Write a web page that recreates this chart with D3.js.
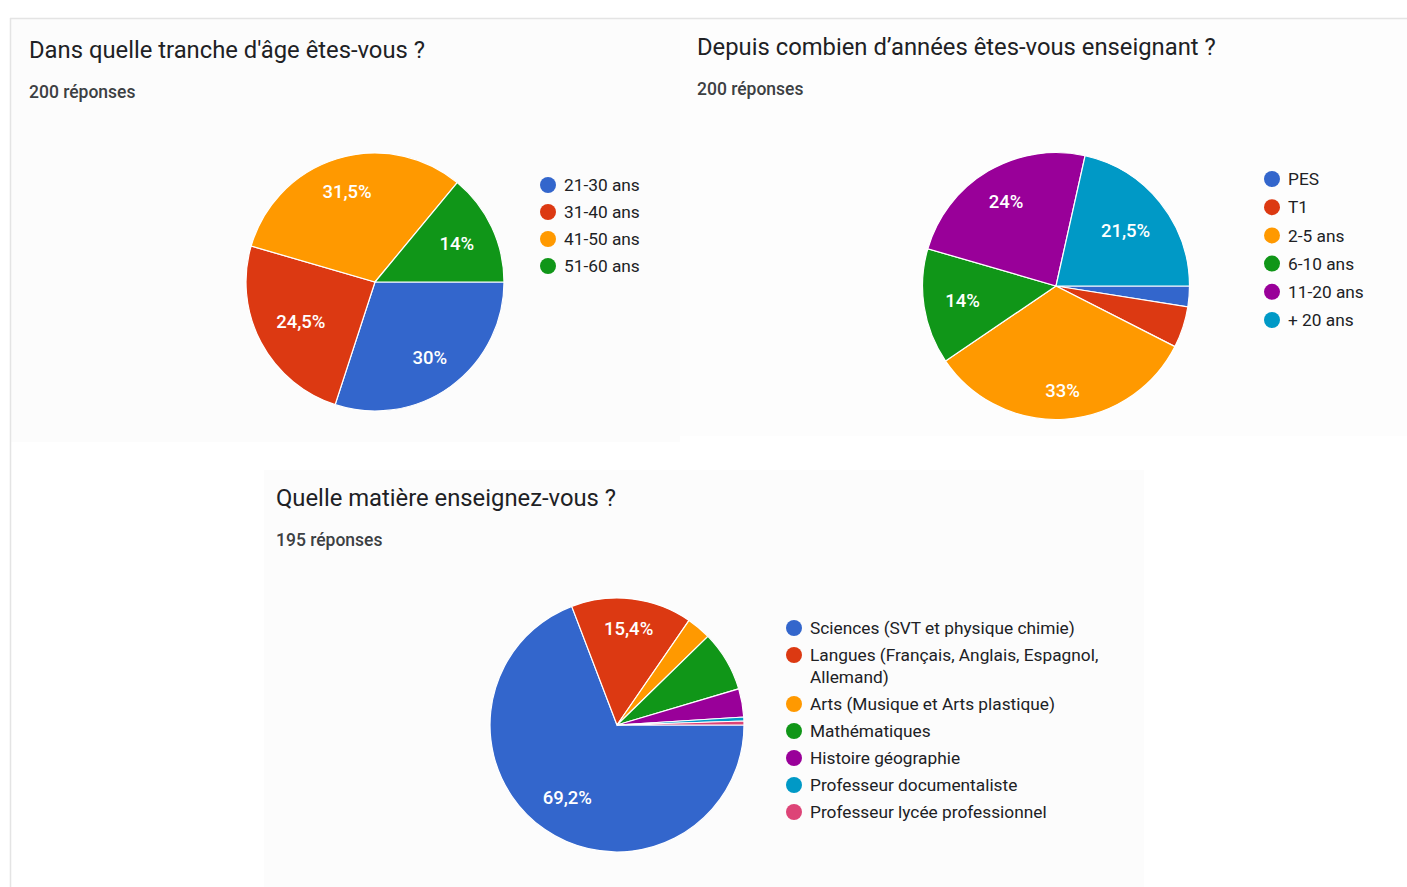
<!DOCTYPE html>
<html>
<head>
<meta charset="utf-8">
<script src="https://cdn.jsdelivr.net/npm/d3@7"></script>
<style>
  html, body { margin: 0; padding: 0; background: #ffffff; }
  svg { display: block; font-family: Roboto, "Noto Sans", Arial, sans-serif; }
</style>
</head>
<body>
<svg id="chart" width="1407" height="887"></svg>
<script>
// ---------- DATA ----------
const ageTitle = "Dans quelle tranche d'âge êtes-vous ?";
const ageResponses = "200 réponses";
const ageCategories = ["21-30 ans", "31-40 ans", "41-50 ans", "51-60 ans"];
const ageValues = [30, 24.5, 31.5, 14];

const seniorityTitle = "Depuis combien d’années êtes-vous enseignant ?";
const seniorityResponses = "200 réponses";
const seniorityCategories = ["PES", "T1", "2-5 ans", "6-10 ans", "11-20 ans", "+ 20 ans"];
const seniorityValues = [2.5, 5, 33, 14, 24, 21.5];

const subjectTitle = "Quelle matière enseignez-vous ?";
const subjectResponses = "195 réponses";
const subjectCategories = [
  "Sciences (SVT et physique chimie)",
  "Langues (Français, Anglais, Espagnol, Allemand)",
  "Arts (Musique et Arts plastique)",
  "Mathématiques",
  "Histoire géographie",
  "Professeur documentaliste",
  "Professeur lycée professionnel"
];
const subjectValues = [69.2, 15.4, 3.1, 7.7, 3.6, 0.5, 0.5];

const palette = ["#3366cc", "#dc3912", "#ff9900", "#109618", "#990099", "#0099c6", "#dd4477"];

// ---------- LAYOUT ----------
const svg = d3.select("#chart");

// page frame & panels
const frame = svg.append("g");
frame.append("rect").attr("x", 11).attr("y", 19).attr("width", 669).attr("height", 423).attr("fill", "#fcfcfc");
frame.append("rect").attr("x", 680).attr("y", 19).attr("width", 727).attr("height", 417).attr("fill", "#fdfdfd");
frame.append("rect").attr("x", 264).attr("y", 470).attr("width", 880).attr("height", 417).attr("fill", "#fcfcfc");
frame.append("line").attr("x1", 10).attr("x2", 1407).attr("y1", 18.5).attr("y2", 18.5).attr("stroke", "#e4e4e4").attr("stroke-width", 1.5);
frame.append("line").attr("x1", 10.5).attr("x2", 10.5).attr("y1", 18).attr("y2", 887).attr("stroke", "#e4e4e4").attr("stroke-width", 1.5);

const fmt = v => d3.format(".1f")(v).replace(/\.0$/, "").replace(".", ",") + "%";

function drawChart(cfg) {
  const g = svg.append("g");
  g.append("text")
    .attr("x", cfg.titleX).attr("y", cfg.titleY)
    .attr("font-size", 23.8).attr("fill", "#202124")
    .text(cfg.title);
  g.append("text")
    .attr("x", cfg.titleX).attr("y", cfg.titleY + 40)
    .attr("font-size", 17.5).attr("font-weight", 500).attr("fill", "#3c4043")
    .text(cfg.responses);

  const pie = d3.pie().sort(null).value(d => d)
    .startAngle(Math.PI / 2).endAngle(Math.PI / 2 + 2 * Math.PI);
  const arcs = pie(cfg.values);
  const arc = d3.arc().innerRadius(0).outerRadius(cfg.r);
  const color = d3.scaleOrdinal().domain(cfg.categories).range(palette);

  const pg = g.append("g").attr("transform", `translate(${cfg.cx},${cfg.cy})`);
  pg.selectAll("path").data(arcs).join("path")
    .attr("d", arc)
    .attr("fill", (d, i) => color(cfg.categories[i]))
    .attr("stroke", "#ffffff").attr("stroke-width", 1.2);

  const fs = 18.5;
  pg.selectAll("text.lbl").data(arcs.filter(d => d.data >= 10)).join("text")
    .attr("class", "lbl")
    .attr("font-size", fs).attr("font-weight", 500).attr("fill", "#ffffff")
    .attr("text-anchor", "middle").attr("dy", "0.36em")
    .text(d => fmt(d.data))
    .each(function(d) {
      const w = this.getComputedTextLength() / 2;
      const h = fs * 0.38;
      const a = (d.startAngle + d.endAngle) / 2;
      const s = Math.sin(a), c = -Math.cos(a);
      const dist = cfg.r * 0.845 - (w * Math.abs(s) + h * Math.abs(c));
      d3.select(this).attr("x", dist * s).attr("y", dist * c);
    });

  // legend
  const lg = g.append("g");
  let y = cfg.legY;
  cfg.categories.forEach((cat, i) => {
    lg.append("circle").attr("cx", cfg.legX).attr("cy", y).attr("r", 8)
      .attr("fill", color(cat));
    const t = lg.append("text").attr("x", cfg.legX + 16).attr("y", y)
      .attr("font-size", 17.3).attr("fill", "#202124");
    // word wrap
    const words = cat.split(" ");
    let line = [], lines = 0;
    let tspan = t.append("tspan").attr("x", cfg.legX + 16).attr("dy", "0.36em");
    words.forEach(wd => {
      line.push(wd);
      tspan.text(line.join(" "));
      if (tspan.node().getComputedTextLength() > cfg.legWrap && line.length > 1) {
        line.pop();
        tspan.text(line.join(" "));
        line = [wd];
        lines++;
        tspan = t.append("tspan").attr("x", cfg.legX + 16).attr("dy", cfg.legLine).text(wd);
      }
    });
    y += cfg.legStep + lines * cfg.legLine;
  });
}

drawChart({
  title: ageTitle, responses: ageResponses, categories: ageCategories, values: ageValues,
  titleX: 29, titleY: 58, cx: 375, cy: 282, r: 129,
  legX: 548, legY: 185, legStep: 27, legLine: 22, legWrap: 300
});
drawChart({
  title: seniorityTitle, responses: seniorityResponses, categories: seniorityCategories, values: seniorityValues,
  titleX: 697, titleY: 55, cx: 1056, cy: 286, r: 133.5,
  legX: 1272, legY: 179, legStep: 28.2, legLine: 22, legWrap: 300
});
drawChart({
  title: subjectTitle, responses: subjectResponses, categories: subjectCategories, values: subjectValues,
  titleX: 276, titleY: 506, cx: 617, cy: 725, r: 127,
  legX: 794, legY: 628, legStep: 27, legLine: 22, legWrap: 300
});
</script>
</body>
</html>
